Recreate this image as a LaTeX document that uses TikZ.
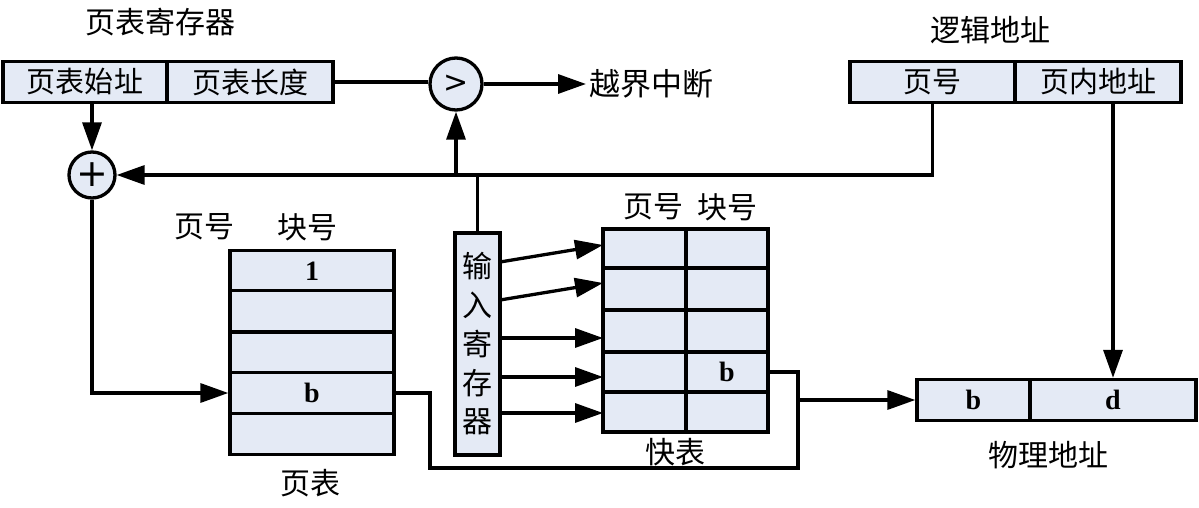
\documentclass[tikz,border=0pt]{standalone}
\usepackage{fontspec}
\newfontfamily\cjk{Noto Sans CJK SC}
\newfontfamily\tms{Liberation Serif}
\newfontfamily\lsans{DejaVu Sans}
\usetikzlibrary{arrows.meta,calc}
\definecolor{cellfill}{RGB}{228,234,245}
\begin{document}
\begin{tikzpicture}[x=1pt,y=-1pt,
  line width=3.3pt,
  cell/.style={draw, fill=cellfill, line width=3.3pt, inner sep=0pt, font=\cjk\fontsize{29}{34}\selectfont},
  lab/.style={inner sep=2pt, font=\cjk\fontsize{30}{34}\selectfont},
  bl/.style={font=\tms\bfseries\fontsize{28}{30}\selectfont},
  arr/.style={-{Triangle[length=28pt,width=19pt]}},
  rnd/.style={draw, circle, fill=cellfill, line width=3.3pt, inner sep=0pt}
]
\useasboundingbox (0,0) rectangle (1199,508);

% page table register
\node[lab] (regtitle) at (160,22) {页表寄存器};
\node[cell, minimum width=164, minimum height=41] (ptstart) at (85,82) {页表始址};
\node[cell, minimum width=166, minimum height=41] (ptlen) at (250,82) {页表长度};

% comparator and adder
\node[rnd, minimum size=52] (cmp) at (456,84) {\lsans\fontsize{30}{30}\selectfont >};
\node[rnd, minimum size=46] (plus) at (92,175) {\lsans\fontsize{38}{38}\selectfont +};

\node[lab, font=\cjk\fontsize{31}{34}\selectfont, anchor=west] (ovf) at (586,84) {越界中断};

% logical address
\node[lab] (logtitle) at (990,30) {逻辑地址};
\node[cell, minimum width=165, minimum height=41] (lpage) at (932.5,82) {页号};
\node[cell, minimum width=166, minimum height=41] (loff) at (1098,82) {页内地址};

% physical address
\node[cell, minimum width=113, minimum height=41] (pblock) at (973.5,400) {};
\node[bl] at (pblock) {b};
\node[cell, minimum width=166, minimum height=41] (poff) at (1113,400) {};
\node[bl] at (poff) {d};
\node[lab] (phys) at (1048,455) {物理地址};

% page table
\node[lab] (pth1) at (204,227) {页号};
\node[lab] (pth2) at (307,227) {块号};
\foreach \i/\y in {1/271,2/311,3/352.5,4/393,5/434}{
  \node[cell, minimum width=164, minimum height=41] (pt\i) at (312,\y) {};
}
\node[bl] at (pt1) {1};
\node[bl] at (pt4) {b};
\node[lab] (pttitle) at (310,483) {页表};

% input register
\node[cell, minimum width=45, minimum height=222, align=center,
      font=\cjk\fontsize{30}{38.75}\selectfont] (inreg) at (477.5,344)
  {输\\入\\寄\\存\\器};

% TLB
\node[lab] (tlbh1) at (653,207) {页号};
\node[lab] (tlbh2) at (727,207) {块号};
\foreach \i/\y/\h in {1/248.5/39,2/289/42,3/331/42,4/372/40,5/412/40}{
  \node[cell, minimum width=83, minimum height=\h] (tlb\i1) at (644.5,\y) {};
  \node[cell, minimum width=82, minimum height=\h] (tlb\i2) at (727,\y) {};
}
\node[bl] at (tlb42) {b};
\node[lab] (tlbtitle) at (675,452) {快表};

% connectors
\draw (ptlen.east) -- (ptlen.east -| cmp.west);
\draw[arr] (cmp.east) -- (ovf.west);
\draw[arr] (plus.north |- ptstart.south) -- (plus.north);
\draw[arr] (lpage.south) |- (plus.east);
\draw[arr] (cmp.south |- plus.east) -- (cmp.south);
\draw (inreg.north) -- (inreg.north |- plus.east);
\draw[arr] (poff.north |- loff.south) -- (poff.north);
\draw[arr] (plus.south) |- (pt4.west);

\coordinate (c1) at (500,262); \coordinate (t1) at (603,245);
\coordinate (c2) at (500,300); \coordinate (t2) at (603,283);
\coordinate (c3) at (500,338); \coordinate (t3) at (603,338);
\coordinate (c4) at (500,377); \coordinate (t4) at (603,377);
\coordinate (c5) at (500,413); \coordinate (t5) at (603,413);
\foreach \i in {1,...,5}{ \draw[arr] (c\i) -- (t\i); }

\coordinate (r1) at (430,468);
\coordinate (r2) at (798,468);
\draw (pt4.east) -| (r1) -- (r2) |- (tlb42.east);
\draw[arr] (pblock.west -| r2) -- (pblock.west);
\end{tikzpicture}
\end{document}
